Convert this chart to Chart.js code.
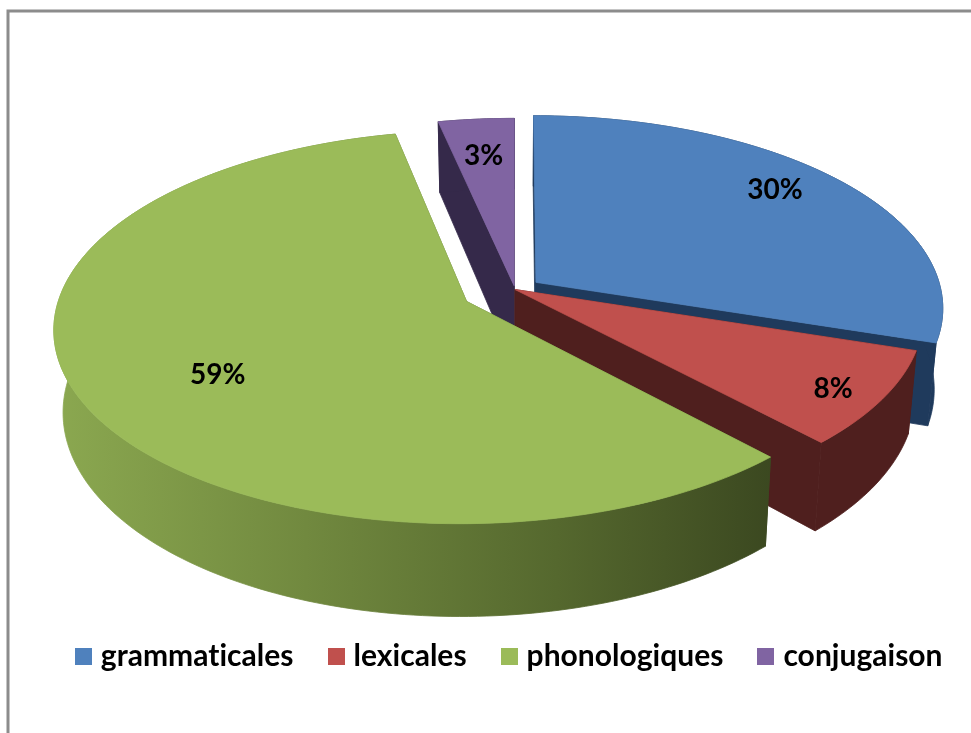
<!DOCTYPE html>
<html><head><meta charset="utf-8">
<style>html,body{margin:0;padding:0;background:#fff}canvas{display:block}</style>
<script src="https://cdn.jsdelivr.net/npm/chart.js@4"></script>
</head><body>
<canvas id="c" width="971" height="733"></canvas>
<script>
const categories = ['grammaticales','lexicales','phonologiques','conjugaison'];
const values = [30, 8, 58.6, 3.4];
const percentLabels = ['30%','8%','59%','3%'];
const topColors = ['#4F81BD','#C0504D','#9BBB59','#8064A2'];
const wallColors = ['#1F3A5C','#4F1F1E','#5F7536','#35294A'];
const explode = [61, 0, 127, 19];
const labelFrac = [0.825, 0.885, 0.68, 0.755];
const labelTurn = [-3.5, 1.4, -4.6, -0.2];
const drawOrder = [3, 0, 1, 2];

const FONT = '"Lato", "Open Sans", sans-serif';
// Tilted-disc view of the pie plane
const VIEW = {x:515, y:289.5, a:405, b:190, k:0.13, depth:80, shrink:0.98};
const LEGEND_SHIFT = 26;
function project(u, v){
  const s = 1/(1 - VIEW.k*v);
  return {x: VIEW.x + VIEW.a*u*s, y: VIEW.y + VIEW.b*v*s, s};
}
function lower(p){
  return {x: VIEW.x + (p.x-VIEW.x)*VIEW.shrink, y: p.y + VIEW.depth*p.s};
}
function poly(ctx, pts){
  ctx.beginPath();
  pts.forEach((p,i)=> i ? ctx.lineTo(p.x,p.y) : ctx.moveTo(p.x,p.y));
  ctx.closePath();
}
function sliceGeom(chart, el){
  const R = el.outerRadius;
  // Chart.js moves an exploded arc by a quarter of its offset along the mid angle
  const mid = (el.startAngle+el.endAngle)/2;
  const d = (el.options.offset||0)/4/R;
  const ox = d*Math.cos(mid), oy = d*Math.sin(mid);
  const n = Math.max(4, Math.ceil((el.endAngle-el.startAngle)/0.02));
  const rim = [];
  for(let i=0;i<=n;i++){
    const t = el.startAngle + (el.endAngle-el.startAngle)*i/n;
    rim.push(project(ox+Math.cos(t), oy+Math.sin(t)));
  }
  return {apex: project(ox,oy), rim, ox, oy};
}
const pie3d = {
  id:'pie3d',
  afterLayout(chart){
    chart.legend.left += LEGEND_SHIFT;
    chart.legend.right += LEGEND_SHIFT;
  },
  beforeDraw(chart){
    const ctx = chart.ctx;
    ctx.letterSpacing = '0.02px';
    ctx.save();
    ctx.fillStyle='#fff'; ctx.fillRect(0,0,chart.width,chart.height);
    ctx.strokeStyle='#8c8c8c'; ctx.lineWidth=3;
    ctx.beginPath(); ctx.moveTo(8,733); ctx.lineTo(8,11); ctx.lineTo(971,11); ctx.stroke();
    ctx.restore();
  },
  beforeDatasetDraw(chart){
    const ctx = chart.ctx, els = chart.getDatasetMeta(0).data;
    ctx.save();
    ctx.lineWidth = 0.8; ctx.lineJoin = 'round';
    drawOrder.forEach(i=>{
      const g = sliceGeom(chart, els[i]);
      const first = g.rim[0], last = g.rim[g.rim.length-1];
      let wall = wallColors[i];
      if(i===2){
        wall = ctx.createLinearGradient(55,0,772,0);
        wall.addColorStop(0,'#8BA850');
        wall.addColorStop(0.35,'#71893F');
        wall.addColorStop(0.7,'#55682E');
        wall.addColorStop(1,'#3B4820');
      }
      ctx.fillStyle = wall; ctx.strokeStyle = wall;
      poly(ctx,[g.apex,first,lower(first),lower(g.apex)]); ctx.fill(); ctx.stroke();
      poly(ctx,[g.apex,last,lower(last),lower(g.apex)]); ctx.fill(); ctx.stroke();
      poly(ctx,g.rim.concat(g.rim.slice().reverse().map(lower))); ctx.fill(); ctx.stroke();
      ctx.fillStyle = topColors[i]; ctx.strokeStyle = topColors[i];
      poly(ctx,[g.apex].concat(g.rim)); ctx.fill(); ctx.stroke();
    });
    ctx.restore();
    return false;
  },
  afterDatasetsDraw(chart){
    const ctx = chart.ctx, els = chart.getDatasetMeta(0).data;
    ctx.save();
    ctx.fillStyle='#000';
    ctx.font='bold 28px '+FONT;
    ctx.textAlign='center'; ctx.textBaseline='middle';
    els.forEach((el,i)=>{
      const g = sliceGeom(chart, el);
      const t = (el.startAngle+el.endAngle)/2 + labelTurn[i]*Math.PI/180;
      const p = project(g.ox+labelFrac[i]*Math.cos(t), g.oy+labelFrac[i]*Math.sin(t));
      ctx.fillText(percentLabels[i], p.x, p.y);
    });
    ctx.restore();
  }
};
function swatch(color){
  const s = document.createElement('canvas');
  s.width = 17; s.height = 17;
  const x = s.getContext('2d'); x.fillStyle = color; x.fillRect(0,0,17,17);
  return s;
}
new Chart(document.getElementById('c'),{
  type:'pie',
  data:{labels:categories,datasets:[{data:values,backgroundColor:topColors,borderWidth:0,offset:explode}]},
  options:{
    responsive:false,animation:false,
    rotation:0,
    layout:{padding:{bottom:52}},
    plugins:{
      tooltip:{enabled:false},
      legend:{
        position:'bottom',
        labels:{
          color:'#000',
          font:{family:FONT,size:30,weight:'bold'},
          usePointStyle:true,pointStyleWidth:5,boxHeight:17,padding:40,
          generateLabels(chart){
            return Chart.overrides.pie.plugins.legend.labels.generateLabels(chart).map((l,i)=>Object.assign(l,{pointStyle:swatch(topColors[i])}));
          }
        }
      }
    }
  },
  plugins:[pie3d]
});
</script>
</body></html>
